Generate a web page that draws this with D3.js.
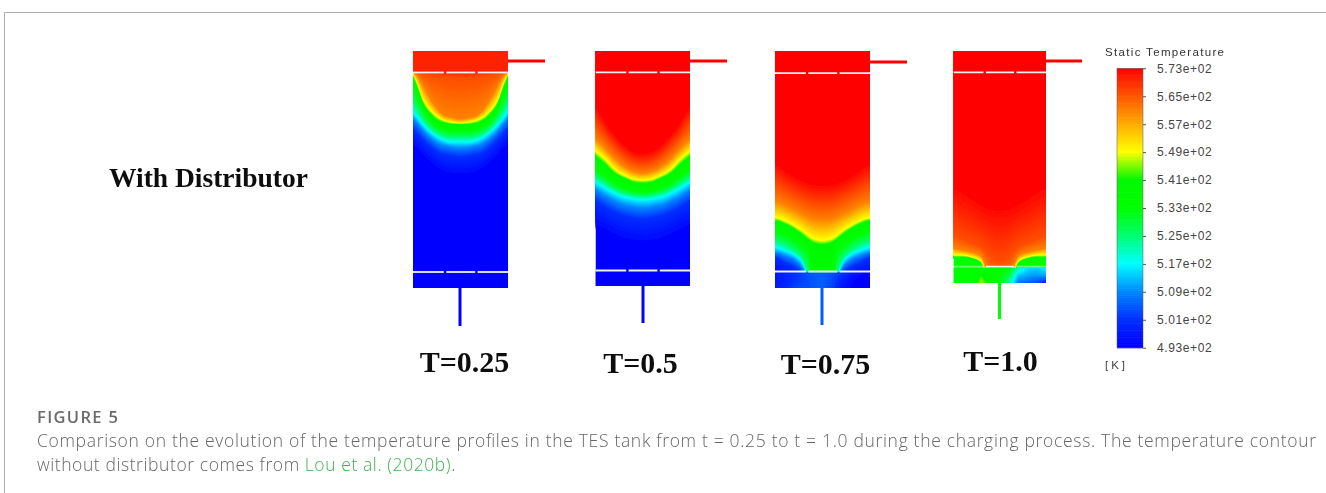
<!DOCTYPE html>
<html><head><meta charset="utf-8">
<script src="https://cdn.jsdelivr.net/npm/d3@7/dist/d3.min.js"></script>
<style>html,body{margin:0;padding:0;background:#fff;overflow:hidden}svg{display:block}</style>
</head><body><svg id="c" width="1326" height="493"></svg>
<script>
// ---- data ----
const tankLabels = ["T=0.25","T=0.5","T=0.75","T=1.0"];
const legendTicks = [573,565,557,549,541,533,525,517,509,501,493];
const colorTemps = [493,501,509,517,525,533,541,549,561,573];
const colorHex = ["#0000ff","#0030ff","#0088ff","#00ffff","#00ff70","#00ff00","#00f800","#ffff00","#ff8000","#ff0000"];
// half-width stations across the tank (0 = wall, 0.5 = axis); profiles are mirrored about the axis
const stations = [0,.05,.1,.2,.3,.35,.4,.5];
// isotherm depth below tank top, per temperature
const tank1Temps = [570,566,561,549,541,533,525,517,509,501,493];
const tank1Depths = [
 [21,21,21,21,21,21,21,21],
 [21,21,22,24,25,26,26,27],
 [21,25,33,50,62,65,66,68],
 [22,33,47,61,68,70,71,72],
 [25,37,50,64,71,72,73,73],
 [36,46,57,71,77,79,80,80],
 [52,59,67,78,84,85,86,86],
 [61,67,73,82,88,90,91,91],
 [68,73,79,88,94,95,96,97],
 [78,83,88,97,103,104,105,106],
 [95,100,106,115,122,124,125,125]];
const tank2Temps = [573,561,549,541,533,525,517,509,501,493];
const tank2Depths = [
 [55,62,70,83,93,97,100,102],
 [88,92,97,107,115,118,120,122],
 [100,104,108,118,124,126,128,129],
 [105,109,113,122,127,129,131,132],
 [119,122,125,132,137,139,140,141],
 [126,129,132,138,142,143,144,145],
 [131,134,137,142,146,147,148,149],
 [139,142,145,150,154,155,156,157],
 [150,153,156,161,165,166,167,168],
 [178,180,182,187,191,192,193,194]];
const tank3Temps = [573,561,549,541,533,525,517,509,501,493];
const tank3Depths = [
 [112,114,118,124,129,131,132,133],
 [150,151,153,158,163,165,167,168],
 [166,167,169,174,180,184,187,189],
 [169,170,172,177,184,188,191,193],
 [180,181,183,188,195,199,240,240],
 [190,191,193,199,209,222,240,240],
 [196,197,199,203,213,225,240,240],
 [201,202,204,208,218,228,240,240],
 [206,208,211,216,224,232,240,240],
 [225,226,228,232,240,240,240,240]];
const tank4Temps = [573,566,561,549,541,533];
const tank4Depths = [
 [135,137,140,146,152,154,156,157],
 [185,186,188,192,196,200,205,210],
 [197,198,199,201,205,215,230,230],
 [204,204,204,206,210,222,240,240],
 [206,206,206,207,212,224,240,240],
 [208,208,208,209,214,226,240,240]];
// outlet-plenum temperature samples (rows top to bottom, columns wall to wall)
const plenum1 = [[493,493],[493,493]];
const plenum2 = [[493,493],[493,493]];
const plenum3 = [
 [497,499,501,503,505,505,504,502,498,495,493],
 [497,499,501,503,504,505,503,499,495,493,493],
 [498,500,503,504,504,505,502,497,494,493,493]];
const plenum4 = [
 [533,533,533,535,533,533,533,522,515,514,517],
 [533,533,533,541,535,533,528,513,511,510,511],
 [533,533,533,547,537,533,522,507,505,503,498]];
const inletTemps = [573,573,573,573];
const outletTemps = [493,493,505,533];
const captionHead = "FIGURE 5";
const captionLine1 = "Comparison on the evolution of the temperature profiles in the TES tank from t = 0.25 to t = 1.0 during the charging process. The temperature contour";
const captionLine2a = "without distributor comes from ";
const captionLink = "Lou et al. (2020b)";
const captionLine2b = ".";

// ---- layout ----
const layout = [
 {x0:413,x1:508,top:51,bot:288,line1:21.5,line2:221,plTop:222,pipeX:460,pipeEnd:326,inY:61,inEnd:545,lx:464.5,ly:372,temps:tank1Temps,depths:tank1Depths,pl:plenum1,side:1},
 {x0:595.5,x1:690,top:51,bot:286,line1:21.3,line2:219.5,plTop:220.5,pipeX:643,pipeEnd:323,inY:61,inEnd:727,lx:640.5,ly:373,temps:tank2Temps,depths:tank2Depths,pl:plenum2,side:1},
 {x0:775,x1:870,top:51.5,bot:288,line1:21.7,line2:220,plTop:220.8,pipeX:822,pipeEnd:325,inY:62,inEnd:907,lx:825.5,ly:374,temps:tank3Temps,depths:tank3Depths,pl:plenum3,side:1},
 {x0:953.5,x1:1046,top:51,bot:283,line1:21.3,line2:215.7,plTop:217,pipeX:999.5,pipeEnd:319,inY:61,inEnd:1082,lx:1000.5,ly:371,temps:tank4Temps,depths:tank4Depths,pl:plenum4,side:.45}
];

const svg = d3.select("#c");
const color = d3.scaleLinear().domain(colorTemps).range(colorHex).clamp(true);
const defs = svg.append("defs");
defs.append("filter").attr("id","soft").attr("x","-5%").attr("y","-5%").attr("width","110%").attr("height","110%")
  .append("feGaussianBlur").attr("stdDeviation",0.6);
defs.append("filter").attr("id","txt").attr("x","-5%").attr("y","-10%").attr("width","110%").attr("height","120%")
  .append("feGaussianBlur").attr("stdDeviation",0.3);

// frame
svg.append("path").attr("d","M4.5,493V12.5H1326").attr("fill","none").attr("stroke","#ababab").attr("stroke-width",1);

const tanks = svg.append("g").attr("filter","url(#soft)");
layout.forEach((t,i)=>{
  const x = d3.scaleLinear().domain([0,1]).range([t.x0,t.x1]);
  const y = d3.scaleLinear().domain([0,t.bot-t.top]).range([t.top,t.bot]);
  defs.append("clipPath").attr("id","clip"+i).append("rect")
    .attr("x",t.x0).attr("y",t.top).attr("width",t.x1-t.x0).attr("height",t.bot-t.top);
  // pipes
  tanks.append("line").attr("x1",t.x1-1).attr("x2",t.inEnd).attr("y1",t.inY).attr("y2",t.inY)
    .attr("stroke",color(inletTemps[i])).attr("stroke-width",3);
  tanks.append("line").attr("x1",t.pipeX).attr("x2",t.pipeX).attr("y1",t.bot-1).attr("y2",t.pipeEnd)
    .attr("stroke",color(outletTemps[i])).attr("stroke-width",3);
  const g = tanks.append("g").attr("clip-path",`url(#clip${i})`);
  // base (coldest level)
  g.append("rect").attr("x",t.x0).attr("y",t.top).attr("width",t.x1-t.x0).attr("height",t.bot-t.top)
    .attr("fill",color(t.temps[t.temps.length-1]));
  // mirrored stations
  const sx = stations.concat(stations.slice(0,-1).reverse().map(s=>1-s));
  const full = row => row.concat(row.slice(0,-1).reverse());
  const area = d3.area().x((d,k)=>x(sx[k])).y0(t.top-2).y1(d=>y(d)).curve(d3.curveMonotoneX);
  // filled contour bands, cold to hot
  for(let r=t.temps.length-1;r>=0;r--){
    const dr = full(t.depths[r]);
    if(r===t.temps.length-1){ g.append("path").datum(dr).attr("d",area).attr("fill",color(t.temps[r])); continue; }
    const dn = full(t.depths[r+1]);
    const steps = Math.ceil((t.temps[r]-t.temps[r+1])*3);
    for(let s=1;s<=steps;s++){
      const f=s/steps, tv=t.temps[r+1]+(t.temps[r]-t.temps[r+1])*f;
      g.append("path").datum(dn.map((d,k)=>d+(dr[k]-d)*f)).attr("d",area).attr("fill",color(tv));
    }
  }
  // outlet plenum: temperature samples resolved bilinearly on a fine grid
  const py = y(t.plTop), pb = t.bot;
  const nr = t.pl.length-1, nc = t.pl[0].length-1;
  const colsPx = d3.range(t.x0,t.x1,1.5), rowsPx = d3.range(py,pb,1.5);
  const fx = d3.scaleLinear().domain([t.x0,t.x1]).range([0,nc]);
  const fy = d3.scaleLinear().domain([py,pb]).range([0,nr]);
  const tempAt=(px,pyy)=>{
    const u=fx(px+.75), v=fy(pyy+.75);
    const c0=Math.min(Math.floor(u),nc-1), r0=Math.min(Math.floor(v),nr-1);
    const a=u-c0,b=v-r0;
    return (t.pl[r0][c0]*(1-a)+t.pl[r0][c0+1]*a)*(1-b)+(t.pl[r0+1][c0]*(1-a)+t.pl[r0+1][c0+1]*a)*b;
  };
  rowsPx.forEach(ry=>{
    g.append("g").selectAll("rect").data(colsPx).join("rect")
      .attr("x",d=>d).attr("y",ry).attr("width",1.9).attr("height",1.9)
      .attr("fill",d=>color(tempAt(d,ry)));
  });
  // distributor plates with two slots
  const segs = [[0,.325],[.35,.655],[.68,1]];
  [t.line1,t.line2].forEach((dl,li)=>{
    g.selectAll(null).data(segs).join("line")
      .attr("x1",d=>x(d[0])).attr("x2",d=>x(d[1])).attr("y1",y(dl)).attr("y2",y(dl))
      .attr("stroke","#f2f2f2").attr("stroke-width",1.8)
      .attr("stroke-opacity",(d,k)=>(li===1&&k!==1)?t.side:1);
  });
  // tank label
  svg.append("text").attr("x",t.lx).attr("y",t.ly).attr("text-anchor","middle").attr("filter","url(#txt)")
    .attr("font-family","Liberation Serif").attr("font-weight","bold").attr("font-size",30).attr("fill","#111").text(tankLabels[i]);
});

svg.append("text").attr("x",109).attr("y",187).attr("font-family","Liberation Serif").attr("font-weight","bold").attr("filter","url(#txt)")
  .attr("font-size",27.5).attr("fill","#111").text("With Distributor");

// colour legend
const ly = d3.scaleLinear().domain([493,573]).range([347.7,68.3]);
const bar = svg.append("g").attr("filter","url(#soft)");
bar.selectAll(null).data(d3.range(493,573,0.5)).join("rect")
  .attr("x",1117).attr("width",26).attr("y",d=>ly(d+0.5)).attr("height",d=>ly(d)-ly(d+0.5)+.6).attr("fill",d=>color(d));
bar.append("rect").attr("x",1117).attr("y",68.3).attr("width",26).attr("height",279.4).attr("fill","none").attr("stroke","#555").attr("stroke-width",.5);
const axis = d3.axisRight(ly).tickValues(legendTicks).tickSize(3).tickPadding(11)
  .tickFormat(v=>d3.format(".2e")(v).replace(/e\+(\d)$/,"e+0$1"));
const ag = svg.append("g").attr("transform","translate(1143,0)").call(axis);
ag.select(".domain").remove();
ag.selectAll("line").attr("stroke","#555");
ag.selectAll("text").attr("font-family","Liberation Sans").attr("font-size",12).attr("fill","#444").attr("letter-spacing",.6);
svg.append("text").attr("x",1105).attr("y",56).attr("font-family","Liberation Sans").attr("font-size",11.5).attr("fill","#333")
  .attr("textLength",119).text("Static Temperature");
svg.append("text").attr("x",1105).attr("y",369).attr("font-family","Liberation Sans").attr("font-size",11.5).attr("fill","#444")
  .attr("letter-spacing",3).text("[K]");

// caption
const capFont = "Open Sans";
svg.append("text").attr("x",37).attr("y",423).attr("font-family",capFont).attr("font-weight",600).attr("font-size",16.5)
  .attr("fill","#6a6a6a").attr("textLength",81).text(captionHead);
svg.append("text").attr("x",37).attr("y",447).attr("font-family",capFont).attr("font-weight",300).attr("font-size",17.5).attr("fill","#666")
  .attr("textLength",1279).text(captionLine1);
const l2 = svg.append("text").attr("x",37).attr("y",471).attr("font-family",capFont).attr("font-weight",300).attr("font-size",17.5).attr("fill","#666").attr("letter-spacing",.58);
l2.append("tspan").text(captionLine2a);
l2.append("tspan").attr("fill","#3fb24f").text(captionLink);
l2.append("tspan").text(captionLine2b);
</script></body></html>
